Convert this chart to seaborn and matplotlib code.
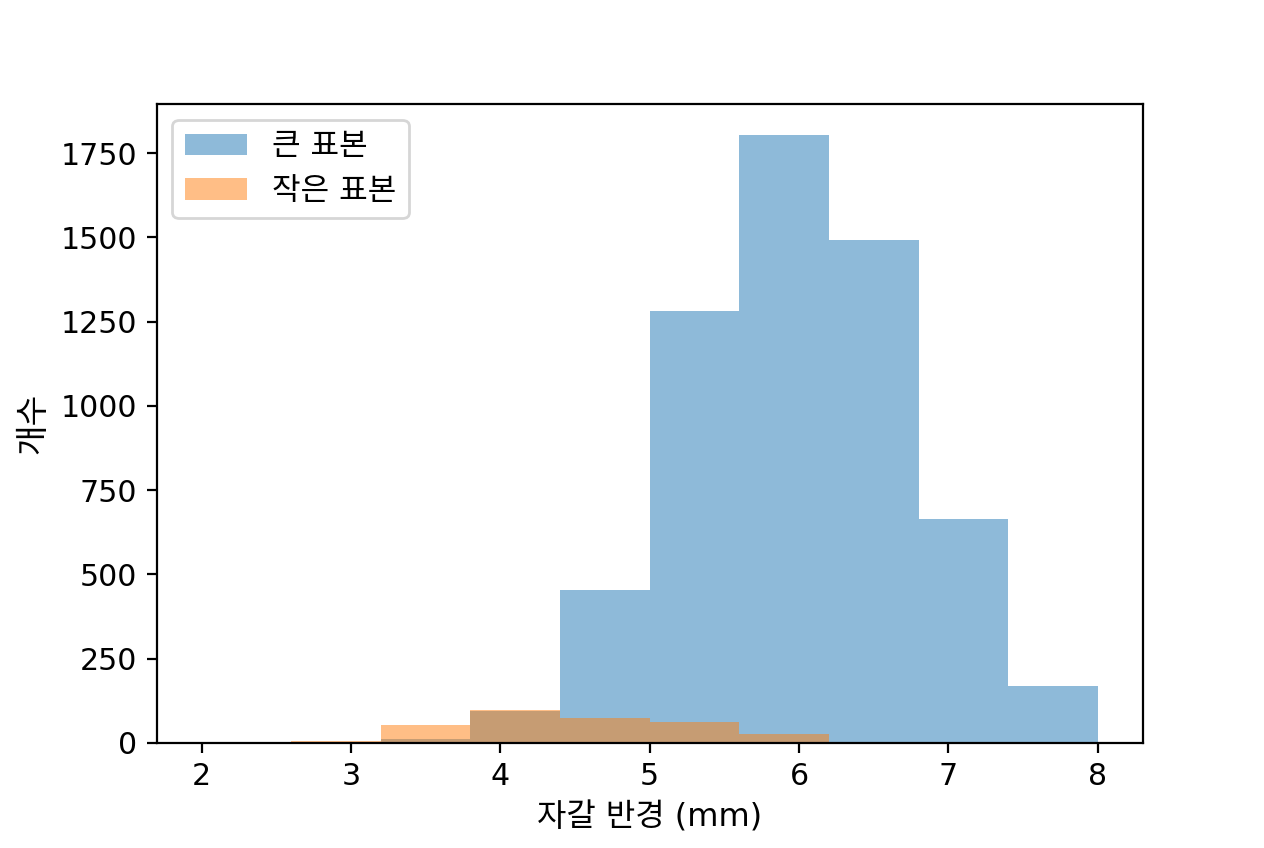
import numpy as np
import pandas as pd
import matplotlib
matplotlib.use("Agg")
import matplotlib.pyplot as plt
import seaborn as sns

plt.rcParams['font.family'] = ['DejaVu Sans', 'Noto Sans CJK KR']
plt.rcParams['font.size'] = 11

# bin edges (mm) shared by both samples
bin_edges = [2.0, 2.6, 3.2, 3.8, 4.4, 5.0, 5.6, 6.2, 6.8, 7.4, 8.0]
large_counts = [1, 2, 10, 96, 455, 1283, 1805, 1493, 665, 168]
small_counts = [0, 6, 54, 98, 75, 63, 26, 0, 0, 0]

centers = [(a + b) / 2 for a, b in zip(bin_edges[:-1], bin_edges[1:])]
df_large = pd.DataFrame({'radius': centers, 'count': large_counts})
df_small = pd.DataFrame({'radius': centers, 'count': small_counts})

fig, ax = plt.subplots(figsize=(6.32, 4.24), dpi=200)
fig.subplots_adjust(left=0.124, right=0.904, bottom=0.124, top=0.877)

sns.histplot(data=df_large, x='radius', weights='count', bins=bin_edges,
             color='#1f77b4', alpha=0.5, linewidth=0, label='큰 표본', ax=ax)
sns.histplot(data=df_small, x='radius', weights='count', bins=bin_edges,
             color='#ff7f0e', alpha=0.5, linewidth=0, label='작은 표본', ax=ax)

ax.set_xlabel('자갈 반경 (mm)', fontsize=11.5)
ax.set_ylabel('개수', fontsize=12)
ax.set_xlim(1.7, 8.3)
ax.tick_params(labelsize=10.8)
ax.legend(loc='upper left', fontsize=11.2)

fig.savefig('out.png', dpi=200)
